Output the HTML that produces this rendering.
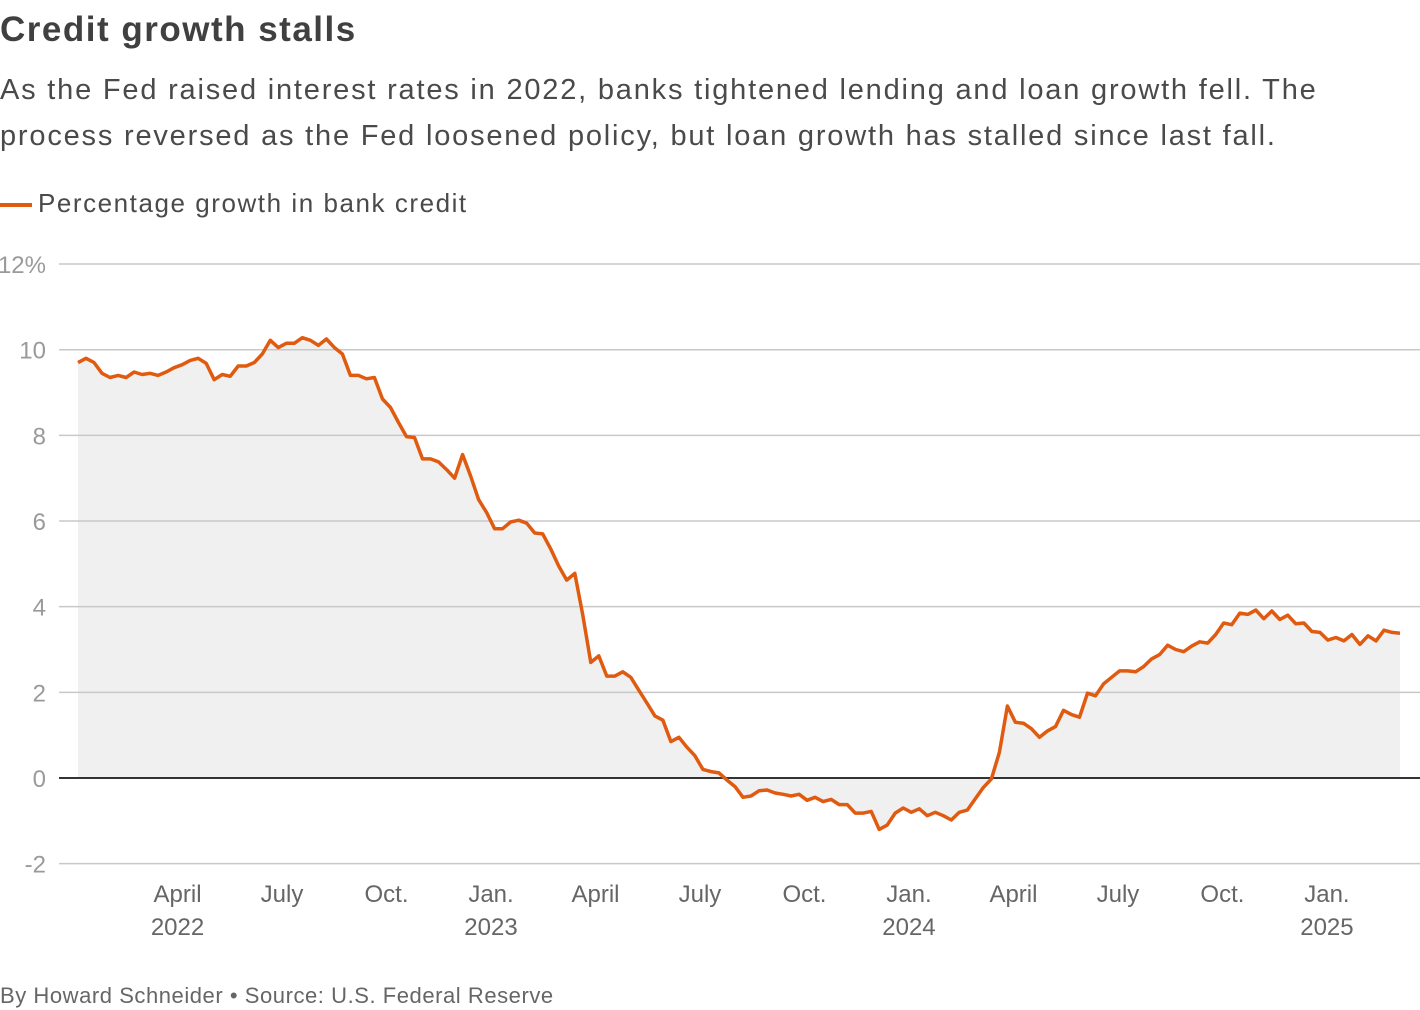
<!DOCTYPE html>
<html><head><meta charset="utf-8">
<style>
body{margin:0;width:1420px;height:1010px;background:#fff;font-family:"Liberation Sans",sans-serif;overflow:hidden;position:relative}
.t{position:absolute;left:0;white-space:nowrap}
</style></head><body>
<div class="t" style="top:10px;font-size:35px;font-weight:bold;color:#404040;letter-spacing:1.5px">Credit growth stalls</div>
<div class="t" style="top:67px;font-size:29px;line-height:46px;color:#4a4a4a;letter-spacing:1.8px">As the Fed raised interest rates in 2022, banks tightened lending and loan growth fell. The<br>process reversed as the Fed loosened policy, but loan growth has stalled since last fall.</div>
<div class="t" style="top:188px;font-size:26px;color:#4a4a4a;letter-spacing:1.55px"><span style="display:inline-block;width:32px;height:4px;background:#e05a0f;vertical-align:middle;margin-right:6px"></span>Percentage growth in bank credit</div>
<svg id="chart" width="1420" height="1010" style="position:absolute;left:0;top:0"></svg>
<div class="t" style="top:983px;font-size:22px;color:#666;letter-spacing:0.55px">By Howard Schneider • Source: U.S. Federal Reserve</div>
<script>
const values=[9.7,9.8,9.7,9.45,9.35,9.4,9.35,9.48,9.42,9.45,9.4,9.48,9.58,9.65,9.75,9.8,9.68,9.3,9.42,9.38,9.62,9.62,9.7,9.9,10.22,10.05,10.15,10.15,10.28,10.22,10.1,10.25,10.05,9.9,9.4,9.4,9.32,9.35,8.85,8.65,8.3,7.97,7.95,7.45,7.45,7.38,7.2,7.0,7.55,7.05,6.5,6.2,5.82,5.82,5.98,6.02,5.95,5.72,5.7,5.35,4.95,4.62,4.78,3.8,2.7,2.85,2.38,2.38,2.48,2.35,2.05,1.75,1.45,1.35,0.85,0.95,0.72,0.52,0.2,0.15,0.12,-0.05,-0.2,-0.45,-0.42,-0.3,-0.28,-0.35,-0.38,-0.42,-0.38,-0.52,-0.45,-0.55,-0.5,-0.62,-0.62,-0.82,-0.82,-0.78,-1.2,-1.1,-0.82,-0.7,-0.8,-0.72,-0.88,-0.8,-0.88,-0.98,-0.8,-0.75,-0.48,-0.22,-0.02,0.6,1.68,1.3,1.28,1.15,0.95,1.1,1.2,1.58,1.48,1.42,1.98,1.92,2.2,2.35,2.5,2.5,2.48,2.6,2.78,2.88,3.1,3.0,2.95,3.08,3.18,3.15,3.35,3.62,3.58,3.85,3.82,3.92,3.72,3.9,3.7,3.8,3.6,3.62,3.42,3.4,3.22,3.28,3.2,3.35,3.12,3.32,3.2,3.45,3.4,3.38];
const yTicks=[-2,0,2,4,6,8,10,12];
const yTickLabels=["-2","0","2","4","6","8","10","12%"];
const xTickMonths=[3,6,9,12,15,18,21,24,27,30,33,36];
const xTickLabels=["April","July","Oct.","Jan.","April","July","Oct.","Jan.","April","July","Oct.","Jan."];
const xTickYears=["2022","","","2023","","","","2024","","","","2025"];
const NS="http://www.w3.org/2000/svg",svg=document.getElementById('chart');
const y=v=>778-v*42.83;
const x=i=>78+i*(1400-78)/(values.length-1);
const xm=m=>491+(m-12)*34.83;
function mk(t,a){const e=document.createElementNS(NS,t);for(const k in a)e.setAttribute(k,a[k]);svg.appendChild(e);return e;}
yTicks.forEach((v,i)=>{
 const l=mk('line',{x1:59,x2:1420,y1:y(v),y2:y(v),stroke:v===0?'#333':'#c8c8c8','stroke-width':v===0?2:1.5});
 
 
 const t=mk('text',{x:46,y:y(v)+9,'text-anchor':'end','font-size':24,fill:'#9a9a9a','font-family':'Liberation Sans'});
 t.textContent=yTickLabels[i];
 
 
});
let d='M'+x(0)+','+y(values[0]);values.forEach((v,i)=>{if(i)d+='L'+x(i).toFixed(1)+','+y(v).toFixed(1);});
const area=mk('path',{d:d+'L'+x(values.length-1)+','+y(0)+'L'+x(0)+','+y(0)+'Z',fill:'#f0f0f0'});


svg.insertBefore(area,svg.firstChild);
const ln=mk('path',{d:d,fill:'none',stroke:'#e05a0f','stroke-width':3.5,'stroke-linejoin':'round'});


xTickMonths.forEach((m,i)=>{
 const t=mk('text',{x:xm(m),y:902,'text-anchor':'middle','font-size':24,fill:'#666','font-family':'Liberation Sans'});
 t.textContent=xTickLabels[i];
 
 
 if(xTickYears[i]){const s=mk('text',{x:xm(m),y:935,'text-anchor':'middle','font-size':24,fill:'#666','font-family':'Liberation Sans'});
 s.textContent=xTickYears[i];
 
 }
});
</script>
</body></html>
